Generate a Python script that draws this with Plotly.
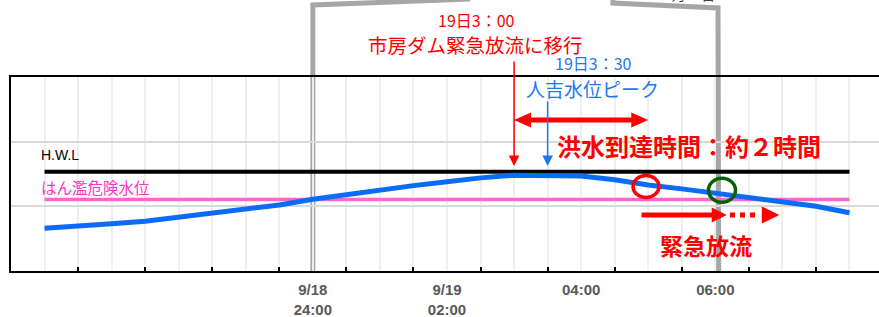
import plotly.graph_objects as go

# ---------------- data ----------------
# time in hours relative to 9/18 24:00 (half-hour steps)
times = [-4.0, -3.5, -3.0, -2.5, -2.0, -1.5, -1.0, -0.5, 0.0, 0.5, 1.0, 1.5, 2.0,
         2.5, 3.0, 3.5, 4.0, 4.5, 5.0, 5.5, 6.0, 6.5, 7.0, 7.5, 8.0]
# Hitoyoshi water level (relative units, gridline = 1)
water_level = [0.66, 0.69, 0.73, 0.77, 0.83, 0.89, 0.95, 1.02, 1.11, 1.18, 1.26, 1.32, 1.38,
               1.44, 1.48, 1.48, 1.47, 1.41, 1.33, 1.27, 1.20, 1.14, 1.07, 1.00, 0.90]
hwl_level = 1.535
danger_level = 1.106

tick_positions = [0, 2, 4, 6]
tick_labels = ["9/18<br>24:00", "9/19<br>02:00", "04:00", "06:00"]

dam_release_time = 3.0      # 19日3:00
peak_time = 3.5             # 19日3:30
arrival_end_time = 5.0
emergency_start = 4.9

# ---------------- layout constants ----------------
W, H = 879, 317
ML, MR, MT, MB = 11, 0, 77, 46
XMIN, XMAX = -4.5, 8.44
YMIN, YMAX = 0.0, 3.0
PLOT_W = W - ML - MR
PLOT_H = H - MT - MB
PX_H = PLOT_W / (XMAX - XMIN)
PX_V = PLOT_H / (YMAX - YMIN)

def px_x(px):
    return XMIN + (px - ML) / PX_H

def px_y(py):
    return YMAX - (py - MT) / PX_V

def paper_y(py):
    return (H - MB - py) / PLOT_H

RED = "#FF0000"
BLUE = "#1E78F0"
GRAY = "#A6A6A6"
JP = "Noto Sans CJK JP"

fig = go.Figure()

fig.add_trace(go.Scatter(x=[times[0], times[-1]], y=[hwl_level, hwl_level], mode="lines",
                         line=dict(color="black", width=4), hoverinfo="skip", showlegend=False))
fig.add_trace(go.Scatter(x=[times[0], times[-1]], y=[danger_level, danger_level], mode="lines",
                         line=dict(color="#FF66CC", width=3.5), hoverinfo="skip", showlegend=False))
fig.add_trace(go.Scatter(x=times, y=water_level, mode="lines",
                         line=dict(color="#0A6CF5", width=5), hoverinfo="skip", showlegend=False))

shapes = []
# gray bracket
bx0, bx1 = 0.0, 6.05
shapes.append(dict(type="path", xref="x", yref="paper", layer="between",
                   path=f"M {bx0} 0 L {bx0} {paper_y(5)} L {px_x(470)} {paper_y(-1)}",
                   line=dict(color=GRAY, width=5)))
shapes.append(dict(type="path", xref="x", yref="paper", layer="between",
                   path=f"M {px_x(613)} {paper_y(-3)} L {px_x(613)} {paper_y(3)} "
                        f"L {px_x(718)} {paper_y(8)} L {bx1} 0",
                   line=dict(color=GRAY, width=5)))

def tri(x_tip, y, direction, length_px, height_px):
    xb = x_tip - direction * length_px / PX_H
    dy = height_px / 2 / PX_V
    return f"M {x_tip} {y} L {xb} {y + dy} L {xb} {y - dy} Z"

# double headed arrow (flood arrival time)
ya = px_y(120)
hl = 17 / PX_H
shapes.append(dict(type="line", xref="x", yref="y", x0=dam_release_time + hl * 0.8, x1=arrival_end_time - hl * 0.8,
                   y0=ya, y1=ya, line=dict(color=RED, width=5)))
shapes.append(dict(type="path", xref="x", yref="y", path=tri(dam_release_time, ya, -1, 17, 15),
                   fillcolor=RED, line=dict(width=0)))
shapes.append(dict(type="path", xref="x", yref="y", path=tri(arrival_end_time, ya, 1, 17, 15),
                   fillcolor=RED, line=dict(width=0)))

# emergency release arrow
ye = px_y(215)
tip1 = px_x(726.7)
shapes.append(dict(type="line", xref="x", yref="y", x0=emergency_start, x1=tip1 - 12 / PX_H,
                   y0=ye, y1=ye, line=dict(color=RED, width=5)))
shapes.append(dict(type="path", xref="x", yref="y", path=tri(tip1, ye, 1, 15, 15),
                   fillcolor=RED, line=dict(width=0)))
shapes.append(dict(type="line", xref="x", yref="y", x0=px_x(730), x1=px_x(756),
                   y0=ye, y1=ye, line=dict(color=RED, width=5, dash="dot")))
shapes.append(dict(type="path", xref="x", yref="y", path=tri(px_x(779.3), ye, 1, 17.5, 17),
                   fillcolor=RED, line=dict(width=0)))

# circles
def circ(cx_px, cy_px, rx, ry, color):
    return dict(type="circle", xref="x", yref="y",
                x0=px_x(cx_px - rx), x1=px_x(cx_px + rx),
                y0=px_y(cy_px + ry), y1=px_y(cy_px - ry),
                line=dict(color=color, width=3.5))
shapes.append(circ(646, 186.5, 13, 11, RED))
shapes.append(circ(722, 190.3, 13.5, 12, "#006400"))

annotations = []
# vertical arrows
annotations.append(dict(x=dam_release_time, y=px_y(166), xref="x", yref="y", text="",
                        showarrow=True, ax=0, ay=-106, arrowhead=2, arrowsize=1.4,
                        arrowwidth=1.5, arrowcolor=RED))
annotations.append(dict(x=peak_time, y=px_y(166), xref="x", yref="y", text="",
                        showarrow=True, ax=0, ay=-66, arrowhead=2, arrowsize=1.4,
                        arrowwidth=1.5, arrowcolor=BLUE))

def txt(text, xp, yp, color, size, bold=False, xanchor="center", yanchor="middle", family=JP):
    return dict(x=px_x(xp), y=paper_y(yp), xref="x", yref="paper", text=text, showarrow=False,
                xanchor=xanchor, yanchor=yanchor,
                font=dict(family=family, size=size, color=color, weight="bold" if bold else "normal"))

annotations.append(txt("19日3：00", 476, 20, RED, 16))
annotations.append(txt("市房ダム緊急放流に移行", 475, 45, RED, 19.5))
annotations.append(txt("19日3：30", 593, 63, BLUE, 16))
annotations.append(txt("人吉水位ピーク", 592, 88, BLUE, 19))
annotations.append(txt("洪水到達時間：約２時間", 689, 145, RED, 24, bold=True))
annotations.append(txt("緊急放流", 706, 245, RED, 23, bold=True))
annotations.append(txt("H.W.L", 39, 155, "black", 14, xanchor="left", family="Liberation Sans, Arial"))
annotations.append(txt("はん濫危険水位", 39, 187.3, "#FF33CC", 15.5, xanchor="left"))
annotations.append(txt("9月19日", 689, 6, "#404040", 14, yanchor="bottom"))

half_hours = times
ticktext = [tick_labels[tick_positions.index(t)] if t in tick_positions else "" for t in half_hours]

fig.update_layout(
    width=W, height=H,
    margin=dict(l=ML, r=MR, t=MT, b=MB, pad=0, autoexpand=False),
    paper_bgcolor="white", plot_bgcolor="white",
    shapes=shapes, annotations=annotations,
    xaxis=dict(range=[XMIN, XMAX], tickmode="array", tickvals=half_hours, ticktext=ticktext,
               ticks="", showgrid=True, gridcolor="#EFEFEF", gridwidth=2, zeroline=False,
               showline=True, mirror=True, linecolor="black", linewidth=2, automargin=False,
               ticklabelstandoff=4,
               tickfont=dict(family="Liberation Sans, Arial", size=15, color="#595959", weight="bold"),
               minor=dict(tickmode="array", tickvals=[t + 0.5 for t in range(-4, 8)], ticks="inside",
                          ticklen=4, tickwidth=2, tickcolor="black", showgrid=False)),
    yaxis=dict(range=[YMIN, YMAX], tickmode="array", tickvals=[1, 2], showticklabels=False,
               ticks="", showgrid=True, gridcolor="#D9D9D9", gridwidth=2, zeroline=False,
               showline=True, linecolor="black", linewidth=2, automargin=False),
)

fig.write_html("out.html", config={"displayModeBar": False},
               post_script="document.body.style.margin='0';document.body.style.overflow='hidden';")
